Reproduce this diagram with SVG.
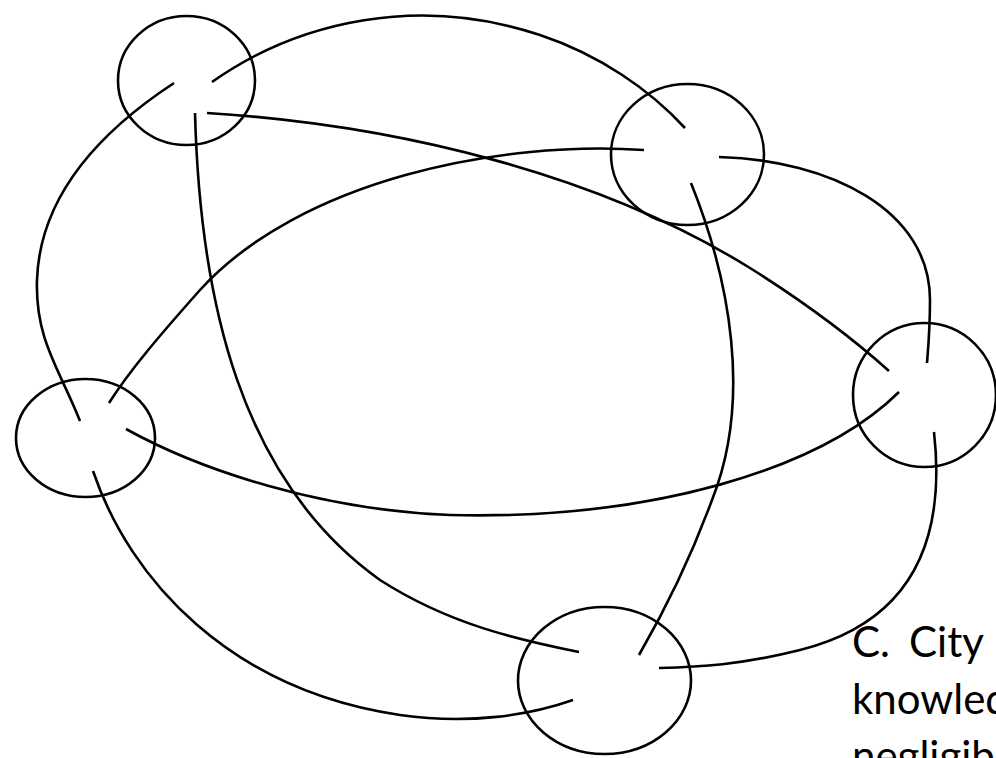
<svg xmlns="http://www.w3.org/2000/svg" width="996" height="758" viewBox="0 0 996 758">
<style>
.n{fill:none;stroke:#000;stroke-width:2.6}
.e{fill:none;stroke:#000;stroke-width:2.6}
.t{font-family:Lato,"Open Sans",sans-serif;font-size:42px;fill:#000}
</style>
<rect width="996" height="758" fill="#fff"/>
<g id="connectors">
<path class="e" d="M174,83 C110,125 40,190 37,280 C35,340 60,370 80,421"/>
<path class="e" d="M212,82 C300,20 420,-5 540,35 C600,55 650,90 685,128"/>
<path class="e" d="M207,113 C400,125 600,175 750,268 C820,312 860,345 889,371"/>
<path class="e" d="M195,113 C200,300 240,480 380,580 C450,625 520,640 579,652"/>
<path class="e" d="M644,150 C500,140 300,180 200,290 C160,335 130,370 109,403"/>
<path class="e" d="M719,157 C830,160 930,210 930,300 C930,330 928,350 927,363"/>
<path class="e" d="M691,183 C730,280 752,400 712,500 C690,560 665,610 639,655"/>
<path class="e" d="M899,392 C820,470 650,520 450,515 C320,510 200,470 126,429"/>
<path class="e" d="M934,432 C945,530 920,620 800,650 C740,665 700,667 659,668"/>
<path class="e" d="M93,471 C130,580 230,690 400,715 C470,725 530,715 573,700"/>
</g>
<g id="node-a"><ellipse class="n" cx="186.5" cy="80.5" rx="68.5" ry="64.5"/></g>
<g id="node-b"><ellipse class="n" cx="687.5" cy="154.5" rx="76.5" ry="70.5"/></g>
<g id="node-c"><ellipse class="n" cx="924.5" cy="395" rx="71.5" ry="72"/></g>
<g id="node-d"><ellipse class="n" cx="85.5" cy="438" rx="69.5" ry="59"/></g>
<g id="node-e"><ellipse class="n" cx="604.5" cy="680.5" rx="86.5" ry="73.5"/></g>
<g id="caption">
<text class="t" x="852" y="657">C.<tspan x="909">City</tspan></text>
<text class="t" x="852" y="714">knowledge</text>
<text class="t" x="852" y="771">negligible</text>
</g>
</svg>
